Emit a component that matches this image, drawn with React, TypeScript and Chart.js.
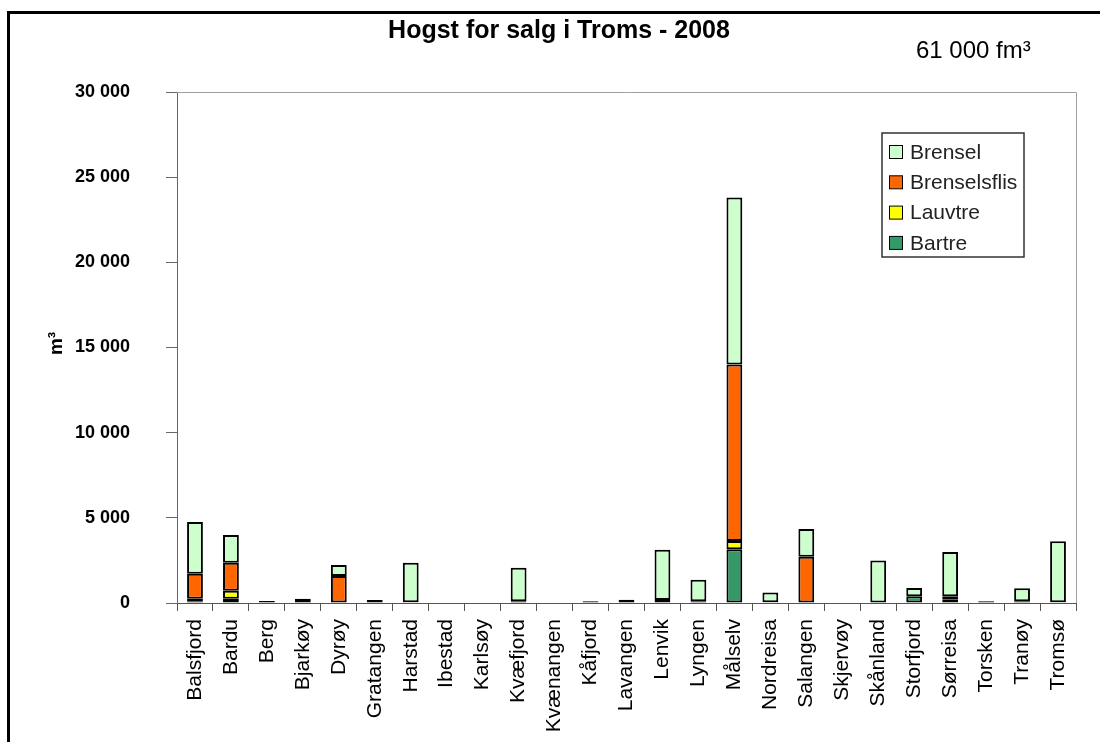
import React, { useEffect, useRef } from "react";
import { Chart, registerables } from "chart.js";

Chart.register(...registerables);

const categories = [
  "Balsfjord", "Bardu", "Berg", "Bjarkøy", "Dyrøy", "Gratangen", "Harstad", "Ibestad",
  "Karlsøy", "Kvæfjord", "Kvænangen", "Kåfjord", "Lavangen", "Lenvik", "Lyngen", "Målselv",
  "Nordreisa", "Salangen", "Skjervøy", "Skånland", "Storfjord", "Sørreisa", "Torsken", "Tranøy", "Tromsø",
];

const bartre = [100, 250, 0, 0, 0, 0, 40, 0, 0, 100, 0, 0, 0, 0, 100, 3150, 50, 0, 0, 0, 390, 220, 0, 0, 40];
const lauvtre = [150, 470, 0, 0, 0, 0, 0, 0, 0, 0, 0, 0, 0, 170, 0, 490, 0, 0, 0, 0, 0, 180, 0, 100, 0];
const brenselsflis = [1470, 1640, 0, 0, 1580, 0, 0, 0, 0, 0, 0, 0, 0, 0, 0, 10360, 0, 2720, 0, 0, 0, 0, 0, 0, 0];
const brensel = [3030, 1630, 120, 250, 650, 180, 2330, 0, 0, 1970, 0, 100, 190, 2960, 1270, 9800, 560, 1620, 0, 2500, 490, 2600, 100, 760, 3580];

const yMin = 0;
const yMax = 30000;
const yStep = 5000;

const titleText = "Hogst for salg i Troms - 2008";
const totalText = "61 000 fm³";
const yTitle = "m³";

const seriesNames = ["Bartre", "Lauvtre", "Brenselsflis", "Brensel"];
const seriesColors = ["#339966", "#ffff00", "#ff6600", "#ccffcc"];

const FONT = '"Liberation Sans", Arial, sans-serif';

const fmt = (v: number) => {
  const s = String(Math.round(v));
  return s.replace(/\B(?=(\d{3})+(?!\d))/g, " ");
};

const decor = {
  id: "decor",
  beforeDraw(chart: any) {
    const ctx = chart.ctx;
    ctx.save();
    ctx.fillStyle = "#fff";
    ctx.fillRect(0, 0, chart.width, chart.height);
    ctx.fillStyle = "#000";
    ctx.fillRect(7, 11, 3, chart.height);
    ctx.fillRect(7, 11, chart.width, 3);
    ctx.restore();
  },
  beforeDatasetsDraw(chart: any) {
    const { ctx, chartArea: a } = chart;
    ctx.save();
    ctx.strokeStyle = "#a0a0a0";
    ctx.lineWidth = 1;
    ctx.beginPath();
    ctx.moveTo(a.left, Math.round(a.top) + 0.5);
    ctx.lineTo(Math.round(a.right) + 0.5, Math.round(a.top) + 0.5);
    ctx.lineTo(Math.round(a.right) + 0.5, a.bottom);
    ctx.stroke();
    ctx.restore();
  },
  afterDraw(chart: any) {
    const { ctx, chartArea: a } = chart;
    ctx.save();
    // title
    ctx.fillStyle = "#000";
    ctx.font = `bold 25px ${FONT}`;
    ctx.textAlign = "center";
    ctx.textBaseline = "middle";
    ctx.fillText(titleText, 559, 31);
    // total
    ctx.font = `24px ${FONT}`;
    ctx.textAlign = "left";
    ctx.fillText(totalText, 916, 51);
    // y title
    ctx.save();
    ctx.translate(57, (a.top + a.bottom) / 2 - 4);
    ctx.rotate(-Math.PI / 2);
    ctx.font = `bold 19px ${FONT}`;
    ctx.textAlign = "center";
    ctx.textBaseline = "middle";
    ctx.fillText(yTitle, 0, 0);
    ctx.restore();
    // legend
    const lx = 882, ly = 133, lw = 142, lh = 124;
    ctx.strokeStyle = "#333";
    ctx.lineWidth = 1.5;
    ctx.strokeRect(lx, ly, lw, lh);
    ctx.font = `21px ${FONT}`;
    ctx.textBaseline = "middle";
    ctx.textAlign = "left";
    const order = [3, 2, 1, 0];
    order.forEach((si, i) => {
      const cy = 152 + i * 30.3;
      ctx.fillStyle = seriesColors[si];
      ctx.fillRect(889.5, cy - 6.5, 13, 13);
      ctx.strokeStyle = "#000";
      ctx.lineWidth = 1;
      ctx.strokeRect(889.5, cy - 6.5, 13, 13);
      ctx.fillStyle = "#222";
      ctx.fillText(seriesNames[si], 910, cy + 1);
    });
    ctx.restore();
  },
};

export default function App() {
  const ref = useRef<HTMLCanvasElement | null>(null);
  useEffect(() => {
    if (!ref.current) return;
    const seriesData = [bartre, lauvtre, brenselsflis, brensel];
    const chart = new Chart(ref.current, {
      type: "bar",
      data: {
        labels: categories,
        datasets: seriesData.map((d, i) => ({
          label: seriesNames[i],
          data: d,
          backgroundColor: seriesColors[i],
          borderColor: "#000",
          borderWidth: 2,
          borderSkipped: false,
          barPercentage: 0.44,
          categoryPercentage: 1,
        })),
      },
      options: {
        responsive: false,
        animation: false,
        devicePixelRatio: 1,
        layout: { padding: { top: 92, right: 24, left: 0, bottom: 0 } },
        plugins: {
          legend: { display: false },
          tooltip: { enabled: false },
          title: { display: false },
        },
        scales: {
          x: {
            stacked: true,
            afterFit: (s: any) => { s.height = 139; },
            grid: {
              offset: true,
              drawOnChartArea: false,
              drawTicks: true,
              tickLength: 8,
              color: "#555",
            },
            border: { display: true, color: "#555", width: 1 },
            ticks: {
              autoSkip: false,
              maxRotation: 90,
              minRotation: 90,
              padding: 8,
              color: "#000",
              font: { family: FONT, size: 21 },
            },
          },
          y: {
            stacked: true,
            min: yMin,
            max: yMax,
            afterFit: (s: any) => { s.width = 177; },
            grid: {
              drawOnChartArea: false,
              drawTicks: true,
              tickLength: 11,
              color: "#666",
            },
            border: { display: true, color: "#666", width: 1 },
            ticks: {
              stepSize: yStep,
              padding: 36,
              color: "#000",
              font: { family: FONT, size: 18, weight: "bold" },
              callback: (v: any) => fmt(Number(v)),
            },
          },
        },
      },
      plugins: [decor],
    });
    return () => chart.destroy();
  }, []);
  return (
    <div style={{ position: "fixed", left: 0, top: 0, width: 1100, height: 742, background: "#fff" }}>
      <canvas ref={ref} width={1100} height={742} style={{ display: "block", width: 1100, height: 742 }} />
    </div>
  );
}
